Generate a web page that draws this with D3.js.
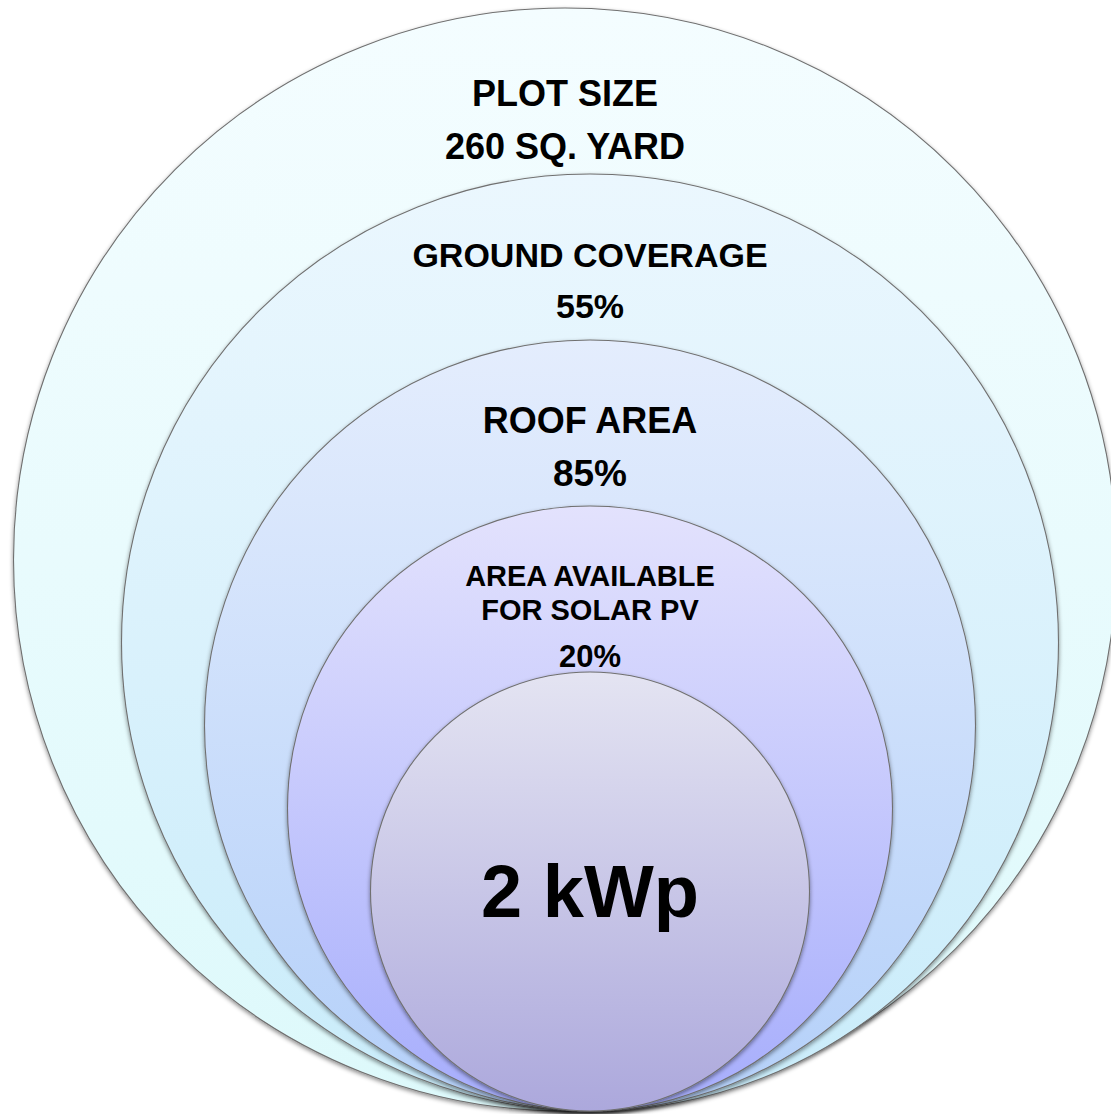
<!DOCTYPE html>
<html>
<head>
<meta charset="utf-8">
<script src="https://cdn.jsdelivr.net/npm/d3@7"></script>
<style>
  body { margin: 0; background: #fff; }
  svg { display: block; }
</style>
</head>
<body>
<svg width="1111" height="1114"></svg>
<script>
(function () {

  // one entry per ring, outermost first
  var titles = [['PLOT SIZE'], ['GROUND COVERAGE'], ['ROOF AREA'], ['AREA AVAILABLE', 'FOR SOLAR PV'], []]
  var values = ['260 SQ. YARD', '55%', '85%', '20%', '2 kWp']
  var topColors = ['#f4fdff', '#ebf7fe', '#e4edfd', '#e3e2fd', '#e4e4f2']
  var bottomColors = ['#ddf9fb', '#c9ecfa', '#b4d0f9', '#a6adfc', '#aca8dc']

  var levels = d3.range(values.length)

  // rings all sit on the same bottom point, radius shrinks by a constant step
  var radiusScale = d3.scaleLinear().domain([0, 4]).range([551.5, 219.5])
  var bottomY = 1111
  var centerX = function(i) { return i === 0 ? 565 : 590 }

  var svg = d3.select('svg')
  var defs = svg.append('defs')

  defs.selectAll('linearGradient')
    .data(levels)
    .enter().append('linearGradient')
    .attr('id', i => 'grad' + i)
    .attr('x1', 0).attr('y1', 0).attr('x2', 0).attr('y2', 1)
    .each(function(i) {
      d3.select(this).append('stop').attr('offset', '0%').attr('stop-color', topColors[i])
      d3.select(this).append('stop').attr('offset', '100%').attr('stop-color', bottomColors[i])
    })

  var shadow = defs.append('filter')
    .attr('id', 'shadow')
    .attr('x', '-10%').attr('y', '-10%')
    .attr('width', '120%').attr('height', '120%')
  shadow.append('feDropShadow')
    .attr('dx', 0).attr('dy', 2)
    .attr('stdDeviation', 2)
    .attr('flood-color', '#000')
    .attr('flood-opacity', 0.45)

  svg.selectAll('circle')
    .data(levels)
    .enter().append('circle')
    .attr('cx', i => centerX(i))
    .attr('cy', i => bottomY - radiusScale(i))
    .attr('r', i => radiusScale(i))
    .attr('fill', i => 'url(#grad' + i + ')')
    .attr('stroke', '#707070')
    .attr('stroke-width', 1.1)
    .attr('filter', 'url(#shadow)')

  // text: where each label block starts, measured from the top of its ring
  var titleSize = [36, 34, 36, 29, 0]
  var valueSize = [36, 34, 37, 31, 74]
  var firstBaseline = [98, 93, 93, 80, 245]
  var lineGap = [53, 51, 53, 34, 0]
  var valueGap = [53, 51, 53, 47, 0]

  var labels = svg.selectAll('g.label')
    .data(levels)
    .enter().append('g')
    .attr('class', 'label')
    .attr('font-family', 'Liberation Sans, Arial, sans-serif')
    .attr('font-weight', 'bold')
    .attr('text-anchor', 'middle')
    .attr('fill', '#000')

  labels.each(function(i) {
    var g = d3.select(this)
    var top = bottomY - 2 * radiusScale(i)
    var y = top + firstBaseline[i]
    titles[i].forEach(function(t, k) {
      g.append('text')
        .attr('x', centerX(i))
        .attr('y', y + k * lineGap[i])
        .attr('font-size', titleSize[i])
        .text(t)
    })
    var vy = titles[i].length ? y + (titles[i].length - 1) * lineGap[i] + valueGap[i] : y
    g.append('text')
      .attr('x', centerX(i))
      .attr('y', vy)
      .attr('font-size', valueSize[i])
      .text(values[i])
  })

})()
</script>
</body>
</html>
